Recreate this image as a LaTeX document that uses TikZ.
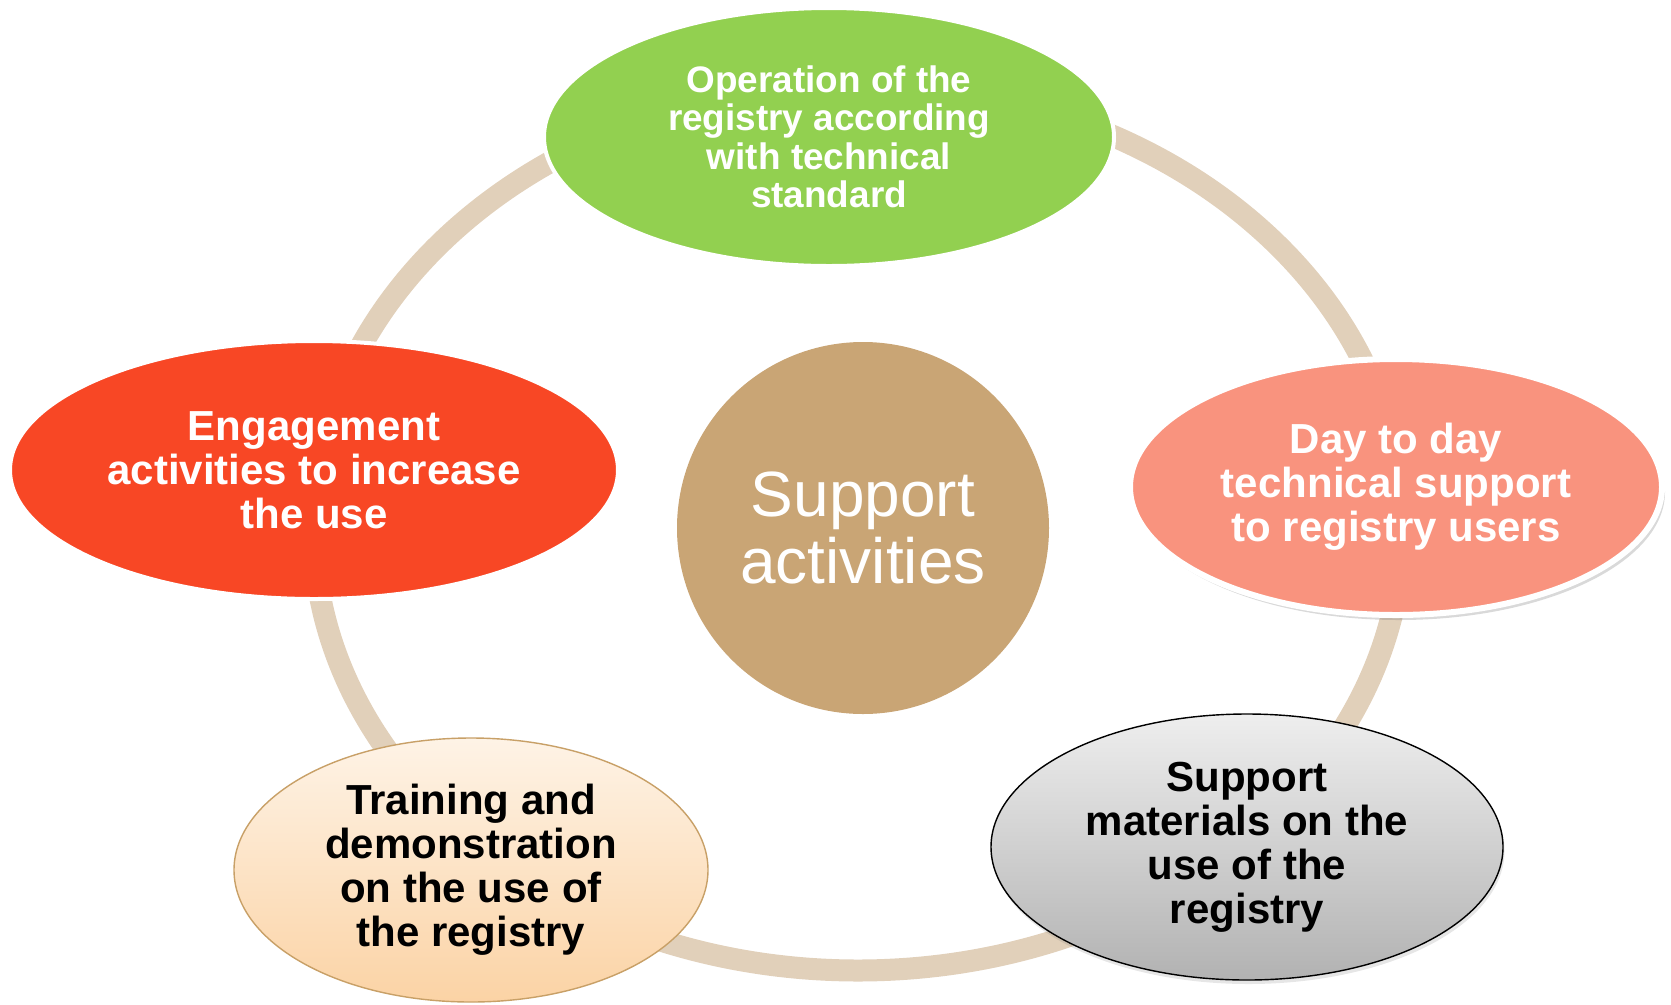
\documentclass[tikz,border=0pt]{standalone}
\usepackage{fontspec}
\setmainfont{Liberation Sans}
\usepackage{tikz}
\usetikzlibrary{shadows}
\usetikzlibrary{shapes}
\usetikzlibrary{shapes.geometric}
\usepackage{xcolor}
\definecolor{leafgreen}{HTML}{92D050}
\definecolor{flamered}{HTML}{F84725}
\definecolor{salmonpink}{HTML}{F9937E}
\definecolor{hubtan}{HTML}{C9A575}
\definecolor{ringtan}{HTML}{E1D0BA}
\definecolor{peachtop}{HTML}{FEF3E6}
\definecolor{peachbottom}{HTML}{FBD3A5}
\definecolor{peachline}{HTML}{C8A067}
\definecolor{greytop}{HTML}{EEEEEE}
\definecolor{greybottom}{HTML}{B2B2B2}
\tikzset{
  % Common styles for the cycle
  ring/.style={draw=ringtan, line width=0.44cm},
  hub/.style={circle, fill=hubtan, text=white, align=center, inner sep=0pt,
    minimum size=7.44cm, font=\fontsize{36.4}{38.1}\selectfont},
  blob/.style={ellipse, align=center, inner sep=0pt,
    font=\bfseries\fontsize{23.9}{25}\selectfont},
  brightblob/.style={blob, draw=white, line width=0.08cm, fill=#1, text=white},
  shadedblob/.style={blob, line width=0.8pt}
}

\begin{document}
\begin{tikzpicture}
        \useasboundingbox (0,0) rectangle (33.42,-20.08);
        % Cycle ring behind everything
        \coordinate (cycle) at (17.16,-10.55);
        \draw[ring] (cycle) ellipse [x radius=10.89cm, y radius=8.86cm];

        % Define nodes
        \node[hub] (support) at (17.26,-10.56) {Support\\activities};
        \node[brightblob=leafgreen, minimum width=11.4cm, minimum height=5.16cm,
          font=\bfseries\fontsize{21}{21.85}\selectfont] (operation) at (16.58,-2.74)
          {Operation of the\\registry according\\with technical\\standard};
        \node[brightblob=salmonpink, line width=0.12cm, minimum width=10.64cm, minimum height=5.12cm,
          drop shadow={shadow xshift=0.06cm, shadow yshift=-0.1cm, opacity=0.3}] (helpdesk) at (27.92,-9.74)
          {Day to day\\technical support\\to registry users};
        \node[shadedblob, draw=black, top color=greytop, bottom color=greybottom,
          minimum width=10.24cm, minimum height=5.32cm,
          drop shadow={shadow xshift=0.03cm, shadow yshift=-0.08cm, opacity=0.2}] (materials) at (24.94,-16.94)
          {Support\\materials on the\\use of the\\registry};
        \node[shadedblob, draw=peachline, top color=peachtop, bottom color=peachbottom,
          minimum width=9.48cm, minimum height=5.28cm] (training) at (9.42,-17.40)
          {Training and\\demonstration\\on the use of\\the registry};
        \node[brightblob=flamered, minimum width=12.16cm, minimum height=5.16cm] (engagement) at (6.28,-9.40)
          {Engagement\\activities to increase\\the use};
    \end{tikzpicture}
\end{document}
